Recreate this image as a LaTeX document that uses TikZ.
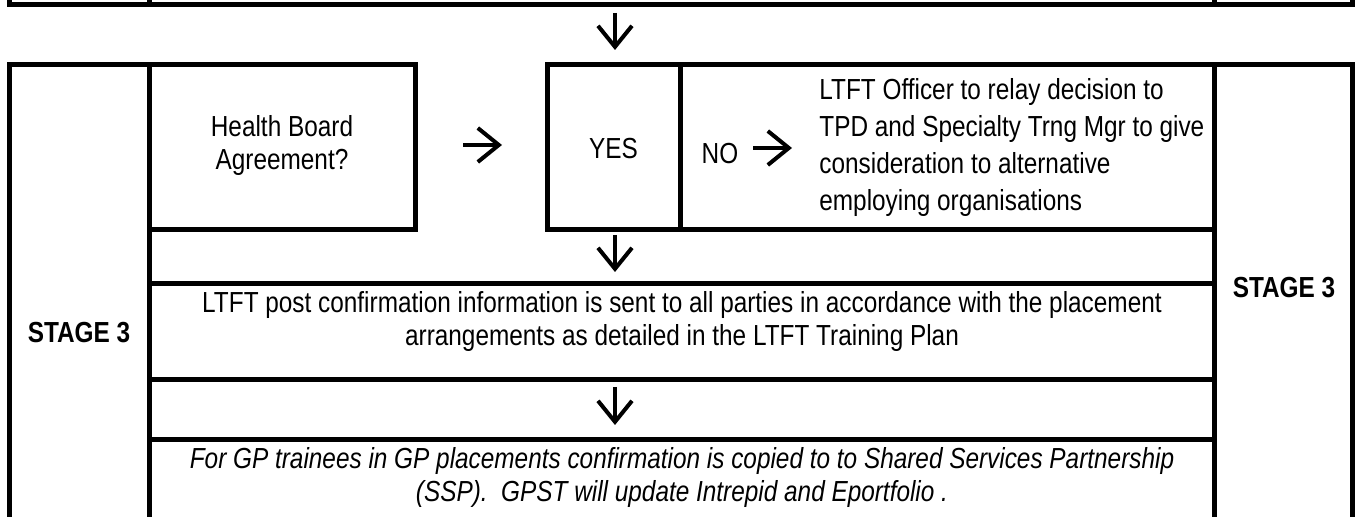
\documentclass[tikz,border=0pt]{standalone}
\usepackage{fontspec}
\setmainfont{Liberation Sans}[FakeStretch=0.84]
\usetikzlibrary{arrows.meta}
\newcommand\fs{\fontsize{14.5}{16.5}\selectfont}

\begin{document}
\begin{tikzpicture}[x=0.5pt, y=-0.5pt,
    frame/.style={line width=2.5pt, line cap=rect},
    txt/.style={font=\fs, align=center, inner sep=0pt},
    stage/.style={font=\fs\bfseries, inner sep=0pt},
    arr/.style={line width=2pt, -{Straight Barb[length=10.5pt, width=17pt]}}]
\useasboundingbox (0,0) rectangle (1356,517);
\draw[frame] (9.5,-20) -- (9.5,4.5) -- (1352.5,4.5) -- (1352.5,-20);
\foreach \x in {149.5,1214.5} \draw[frame] (\x,-20) -- (\x,4.5);
\draw[frame] (9.5,540) -- (9.5,65) -- (415,65) -- (415,230) -- (149.5,230);
\draw[frame] (547,230) -- (547,65) -- (1352.5,65) -- (1352.5,540);
\foreach \x in {149.5,1214.5} \draw[frame] (\x,65) -- (\x,540);
\draw[frame] (680,65) -- (680,230);
\foreach \y/\a in {230/547,283.5/149.5,379.5/149.5,440/149.5} \draw[frame] (\a,\y) -- (1214.5,\y);

\node[stage] (stageleft) at (79,332.5) {STAGE 3};
\node[stage] (stageright) at (1284,288) {STAGE 3};
\node[txt] (board) at (282,146) {Health Board\\Agreement?};
\node[txt] (yes) at (613.5,149) {YES};
\node[txt] (no) at (720,154) {NO};
\node[txt, align=left, anchor=west, font=\fontsize{14.5}{18.5}\selectfont] (officer) at (819,148) {LTFT Officer to relay decision to\\TPD and Specialty Trng Mgr to give\\consideration to alternative\\employing organisations};
\node[txt] (post) at (682,322) {LTFT post confirmation information is sent to all parties in accordance with the placement\\arrangements as detailed in the LTFT Training Plan};
\node[txt, font=\fs\itshape] (gp) at (682,478) {For GP trainees in GP placements confirmation is copied to to Shared Services Partnership\\(SSP).\ \ GPST will update Intrepid and Eportfolio .};

\coordinate (top1) at (615,13);   \coordinate (top2) at (615,50);
\coordinate (mid1) at (615,235);  \coordinate (mid2) at (615,272);
\coordinate (low1) at (615,387);  \coordinate (low2) at (615,425);
\coordinate (hb1) at (463,145);   \coordinate (hb2) at (502,145);
\coordinate (no1) at (753,148);   \coordinate (no2) at (792,148);
\draw[arr] (top1) -- (top2);
\draw[arr] (mid1) -- (mid2);
\draw[arr] (low1) -- (low2);
\draw[arr] (hb1) -- (hb2);
\draw[arr] (no1) -- (no2);
\end{tikzpicture}
\end{document}
